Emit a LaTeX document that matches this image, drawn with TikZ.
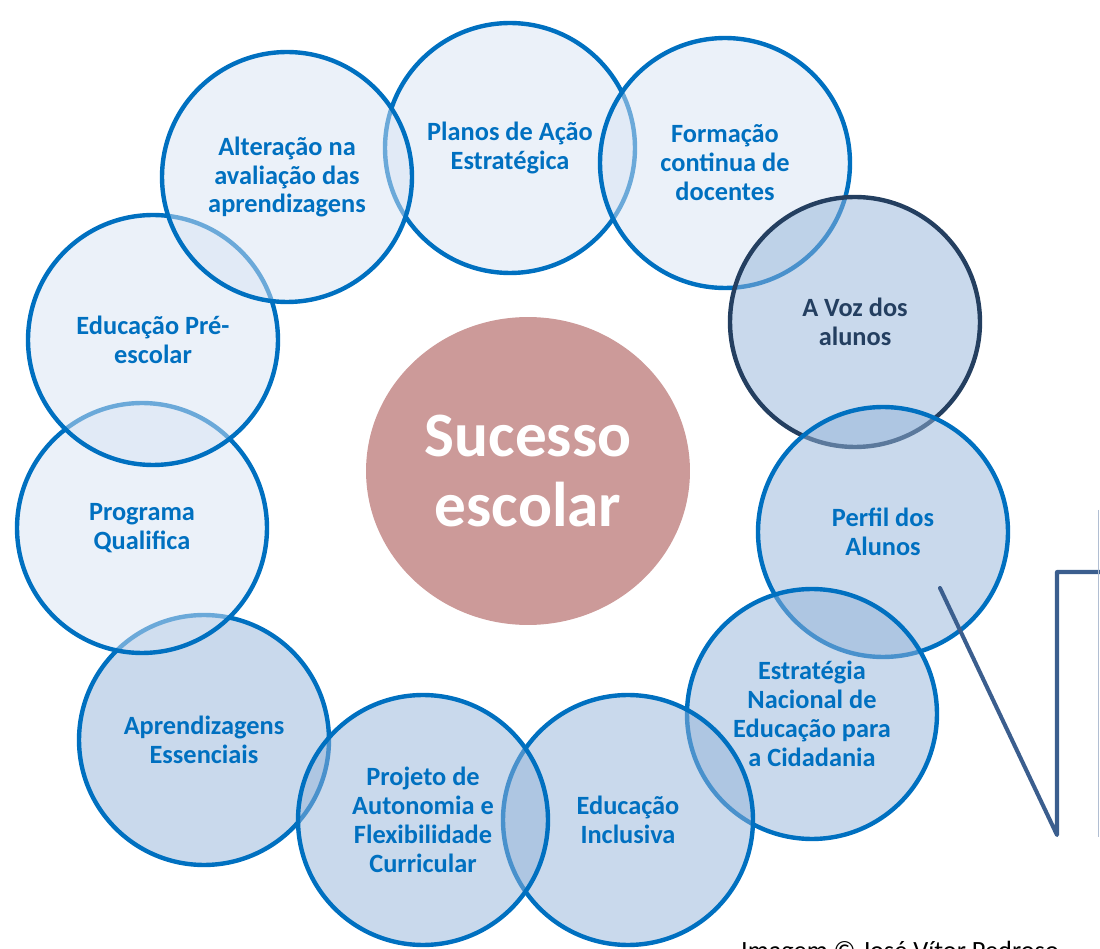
\documentclass[tikz,border=0pt]{standalone}
\usepackage{fontspec}
\setmainfont{Carlito}
\usetikzlibrary{shapes.geometric}

\definecolor{ringblue}{HTML}{0070C0}
\definecolor{lightfill}{HTML}{D7E3F3}
\definecolor{darkfill}{HTML}{93B3D9}
\definecolor{navy}{HTML}{243F60}
\definecolor{rose}{HTML}{CC9A99}
\definecolor{bracket}{HTML}{3B5E8E}

\begin{document}
\begin{tikzpicture}[x=0.02cm, y=-0.02cm,
        RC/.style = {circle, draw=ringblue, line width=2.5pt, minimum size=5cm,
                     inner sep=0pt, fill opacity=0.5, text opacity=1, align=center,
                     text=ringblue, font=\bfseries\fontsize{15}{16.5}\selectfont},
        LC/.style = {RC, fill=lightfill},
        DC/.style = {RC, fill=darkfill} ]
   \clip (0,0) rectangle (1100,949);

   % ring of circles, in drawing order
   \node (plans)   [LC] at (510,148) {Planos de Ação\\Estratégica};
   \node (training)[LC] at (725,163) {Formação\\continua de\\docentes};
   \node (voice)   [DC, draw=navy, text=navy] at (855,322) {A Voz dos\\alunos};
   \node (profile) [DC] at (883,532) {Perfil dos\\Alunos};
   \node (citizen) [DC] at (812,714) {Estratégia\\Nacional de\\Educação para\\a Cidadania};
   \node (inclus)  [DC] at (628,820) {Educação\\Inclusiva};
   \node (essent)  [DC] at (204,740) {Aprendizagens\\Essenciais};
   \node (autonomy)[DC] at (423,820) {Projeto de\\Autonomia e\\Flexibilidade\\Curricular};
   \node (qualif)  [LC] at (142,528) {Programa\\Qualifica};
   \node (preschool)[LC] at (153,340) {Educação Pré-\\escolar};
   \node (assess)  [LC] at (287,177) {Alteração na\\avaliação das\\aprendizagens};

   % centre
   \node (success) [ellipse, fill=rose, minimum width=6.48cm, minimum height=6.16cm,
                    align=center, text=white,
                    font=\bfseries\fontsize{36}{39.7}\selectfont] at (528,471) {Sucesso\\escolar};

   % bracket on the right
   \coordinate (tip)    at (940,588);
   \coordinate (foot)   at (1057,835);
   \coordinate (corner) at (1057,572);
   \coordinate (edge)   at (1100,572);
   \draw[bracket, line width=2.3pt, line join=round, line cap=round]
        (tip) -- (foot) -- (corner) -- (edge);
   \draw[bracket!40, line width=0.6pt] (1098.5,510) -- (1098.5,837);

   \node (credit) [anchor=base, font=\fontsize{15}{18}\selectfont] at (900,959)
        {Imagem © José Vítor Pedroso};
\end{tikzpicture}
\end{document}
